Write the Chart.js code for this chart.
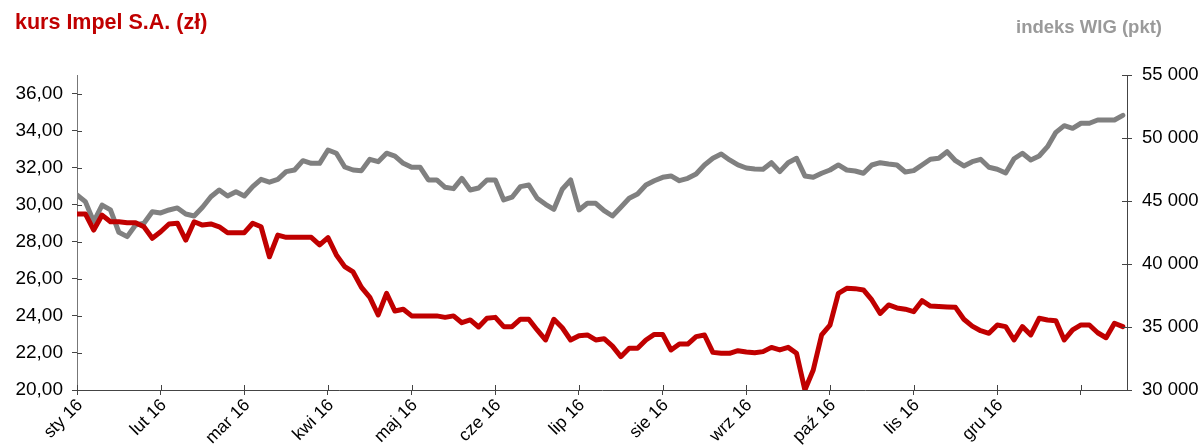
<!DOCTYPE html>
<html>
<head>
<meta charset="utf-8">
<script src="https://cdn.jsdelivr.net/npm/chart.js@4/dist/chart.umd.min.js"></script>
<style>
  html, body { margin: 0; padding: 0; background: #fff; }
  #wrap { position: relative; width: 1203px; height: 445px; }
  #c { position: absolute; left: 0; top: 0; }
  .ttl { position: absolute; font-family: "Liberation Sans", Arial, sans-serif; font-weight: bold; white-space: nowrap; }
  #t1 { left: 15px; top: 10px; color: #C00000; font-size: 21.5px; }
  #t2 { right: 41px; top: 16px; color: #9a9a9a; font-size: 18.5px; }
</style>
</head>
<body>
<div id="wrap">
  <canvas id="c" width="1203" height="445"></canvas>
  <div class="ttl" id="t1">kurs Impel S.A. (zł)</div>
  <div class="ttl" id="t2">indeks WIG (pkt)</div>
</div>
<script>
// Month tick labels (one every 10 sampled sessions)
const monthLabels = ['sty 16','lut 16','mar 16','kwi 16','maj 16','cze 16','lip 16','sie 16','wrz 16','paź 16','lis 16','gru 16',''];

// Impel S.A. share price (zł), sampled sessions of 2016
const impelPrice = [
  29.50,29.50,28.63,29.44,29.08,29.08,29.03,29.03,28.81,28.19,
  28.54,28.96,29.00,28.09,29.08,28.90,28.96,28.81,28.49,28.49,
  28.49,29.00,28.81,27.19,28.36,28.24,28.24,28.24,28.24,27.83,
  28.22,27.29,26.66,26.37,25.54,25.00,24.05,25.22,24.26,24.36,
  24.00,24.00,24.00,24.00,23.92,24.00,23.63,23.78,23.40,23.87,
  23.92,23.42,23.42,23.82,23.82,23.24,22.70,23.82,23.36,22.70,
  22.93,22.97,22.70,22.77,22.37,21.80,22.25,22.25,22.70,23.00,
  23.00,22.16,22.48,22.48,22.88,22.97,22.03,21.98,21.98,22.12,
  22.05,22.01,22.07,22.30,22.16,22.30,21.98,20.00,21.08,22.97,
  23.50,25.22,25.49,25.47,25.40,24.86,24.13,24.59,24.43,24.36,
  24.23,24.82,24.53,24.50,24.48,24.46,23.82,23.45,23.20,23.06,
  23.51,23.42,22.70,23.42,22.97,23.87,23.78,23.74,22.70,23.24,
  23.51,23.51,23.09,22.82,23.60,23.42
];

// WIG index (pkt), same sessions
const wigIndex = [
  45480,44950,43360,44680,44290,42520,42170,43100,43230,44150,
  44050,44290,44450,43970,43810,44500,45340,45870,45400,45740,
  45400,46140,46720,46490,46720,47330,47460,48200,47990,47990,
  49050,48790,47700,47460,47410,48310,48120,48790,48570,47990,
  47680,47680,46670,46670,46090,45980,46800,45870,46030,46670,
  46670,45080,45300,46140,46270,45220,44740,44340,45930,46670,
  44290,44820,44820,44230,43810,44500,45220,45560,46270,46610,
  46880,46990,46610,46800,47140,47860,48390,48730,48260,47860,
  47620,47540,47520,48040,47330,48040,48390,46990,46880,47200,
  47460,47860,47460,47380,47200,47860,48040,47940,47860,47300,
  47410,47860,48310,48390,48910,48200,47780,48120,48310,47680,
  47520,47220,48350,48790,48260,48570,49310,50450,50980,50770,
  51170,51170,51430,51430,51430,51800
];

// Axis tick values
const leftTicks = [20,22,24,26,28,30,32,34,36];
const rightTicks = [30000,35000,40000,45000,50000,55000];

const toXY = arr => arr.map((v, i) => ({ x: i, y: v }));

const innerTicks = {
  id: 'innerTicks',
  afterDraw(chart) {
    const ctx = chart.ctx;
    const a = chart.chartArea;
    ctx.save();
    ctx.lineWidth = 1;
    ctx.strokeStyle = '#444';
    const sx = chart.scales.x;
    sx.ticks.forEach(t => {
      const px = Math.round(sx.getPixelForValue(t.value)) + 0.5;
      ctx.beginPath(); ctx.moveTo(px, a.bottom); ctx.lineTo(px, a.bottom - 5); ctx.stroke();
    });
    const yl = chart.scales.y;
    yl.ticks.forEach(t => {
      const py = Math.round(yl.getPixelForValue(t.value)) + 0.5;
      ctx.beginPath(); ctx.moveTo(a.left, py); ctx.lineTo(a.left + 5, py); ctx.stroke();
    });
    const yr = chart.scales.y1;
    yr.ticks.forEach(t => {
      const py = Math.round(yr.getPixelForValue(t.value)) + 0.5;
      ctx.beginPath(); ctx.moveTo(a.right, py); ctx.lineTo(a.right - 5, py); ctx.stroke();
    });
    ctx.restore();
  }
};

const fam = '"Liberation Sans", Arial, sans-serif';

new Chart(document.getElementById('c'), {
  type: 'line',
  data: {
    datasets: [
      {
        label: 'kurs Impel S.A. (zł)',
        data: toXY(impelPrice),
        yAxisID: 'y',
        borderColor: '#C00000',
        borderWidth: 5,
        pointRadius: 0,
        tension: 0,
        borderJoinStyle: 'round',
        borderCapStyle: 'round'
      },
      {
        label: 'indeks WIG (pkt)',
        data: toXY(wigIndex),
        yAxisID: 'y1',
        borderColor: '#808080',
        borderWidth: 5,
        pointRadius: 0,
        tension: 0,
        borderJoinStyle: 'round',
        borderCapStyle: 'round'
      }
    ]
  },
  options: {
    responsive: false,
    animation: false,
    devicePixelRatio: 1,
    layout: { padding: { top: 75, left: 0, right: 0, bottom: 0 } },
    plugins: { legend: { display: false }, tooltip: { enabled: false } },
    scales: {
      x: {
        type: 'linear',
        min: 0,
        max: 125.5,
        afterBuildTicks(s) {
          s.ticks = monthLabels.map((_, k) => ({ value: k * 10 }));
        },
        afterFit(s) { s.height = 55; },
        ticks: {
          autoSkip: false,
          minRotation: 45,
          maxRotation: 45,
          padding: 0,
          labelOffset: 3,
          color: '#000',
          font: { family: fam, size: 17.5 },
          callback: v => monthLabels[Math.round(v / 10)] ?? ''
        },
        grid: { drawOnChartArea: false, drawTicks: true, tickLength: 5, tickColor: '#444' },
        border: { display: true, color: '#444', width: 1 }
      },
      y: {
        position: 'left',
        min: 20,
        max: 37,
        afterBuildTicks(s) { s.ticks = leftTicks.map(v => ({ value: v })); },
        afterFit(s) { s.width = 77; },
        ticks: {
          padding: 9,
          color: '#000',
          font: { family: fam, size: 19 },
          callback: v => Number(v).toFixed(2).replace('.', ',')
        },
        grid: { drawOnChartArea: false, drawTicks: true, tickLength: 5, tickColor: '#444' },
        border: { display: true, color: '#777', width: 1 }
      },
      y1: {
        position: 'right',
        min: 30000,
        max: 55000,
        afterBuildTicks(s) { s.ticks = rightTicks.map(v => ({ value: v })); },
        afterFit(s) { s.width = 76; },
        ticks: {
          padding: 10,
          color: '#000',
          font: { family: fam, size: 18.5 },
          callback: v => String(v).replace(/\B(?=(\d{3})+(?!\d))/g, ' ')
        },
        grid: { drawOnChartArea: false, drawTicks: true, tickLength: 5, tickColor: '#444' },
        border: { display: true, color: '#444', width: 1 }
      }
    }
  },
  plugins: [innerTicks]
});
</script>
</body>
</html>
